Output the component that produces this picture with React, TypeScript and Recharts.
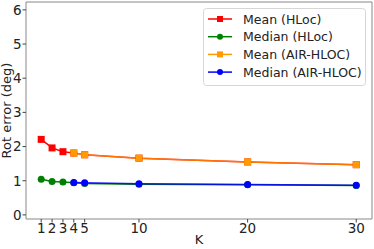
import { LineChart, Line, XAxis, YAxis, ReferenceArea } from 'recharts';

const kValues = [1, 2, 3, 4, 5, 10, 20, 30];
const meanHloc = [2.21, 1.96, 1.85, 1.81, 1.76, 1.66, 1.55, 1.47];
const medianHloc = [1.04, 0.98, 0.96, 0.94, 0.92, 0.9, 0.88, 0.86];
const meanAir = [null, null, null, 1.81, 1.76, 1.66, 1.55, 1.47];
const medianAir = [null, null, null, 0.95, 0.94, 0.91, 0.89, 0.87];
const yTicks = [0, 1, 2, 3, 4, 5, 6];

const data = kValues.map((k, i) => ({
  k,
  meanHloc: meanHloc[i],
  medianHloc: medianHloc[i],
  meanAir: meanAir[i],
  medianAir: medianAir[i],
}));

const FONT = '"DejaVu Sans", sans-serif';

const legendItems = [
  { label: 'Mean (HLoc)', color: '#ff0000', shape: 'square' },
  { label: 'Median (HLoc)', color: '#008000', shape: 'circle' },
  { label: 'Mean (AIR-HLOC)', color: '#ff9a00', shape: 'square' },
  { label: 'Median (AIR-HLOC)', color: '#0000ff', shape: 'circle' },
];

function squareDot(color: string) {
  return (props: any) => {
    const { cx, cy, key } = props;
    if (cx == null || cy == null) return <g key={key} />;
    return <rect key={key} x={cx - 3.5} y={cy - 3.5} width={7} height={7} fill={color} />;
  };
}

function circleDot(color: string) {
  return (props: any) => {
    const { cx, cy, key } = props;
    if (cx == null || cy == null) return <g key={key} />;
    return <circle key={key} cx={cx} cy={cy} r={3.5} fill={color} />;
  };
}

function ChartLegend() {
  return (
    <svg width={163} height={78} style={{ display: 'block' }}>
      <rect x={0.5} y={0.5} width={162} height={77} rx={3} fill="#fff" fillOpacity={0.8} stroke="#d6d6d6" />
      {legendItems.map((item, i) => {
        const y = 11 + i * 17.7;
        return (
          <g key={item.label}>
            <line x1={5} x2={29} y1={y} y2={y} stroke={item.color} strokeWidth={1.5} />
            {item.shape === 'square' ? (
              <rect x={14} y={y - 3} width={6} height={6} fill={item.color} />
            ) : (
              <circle cx={17} cy={y} r={3} fill={item.color} />
            )}
            <text x={40} y={y} dy="0.36em" fontSize={12.5} fontFamily={FONT} fill="#222">
              {item.label}
            </text>
          </g>
        );
      })}
    </svg>
  );
}

export default function App() {
  return (
    <div style={{ position: 'absolute', left: 0, top: 0, width: 374, height: 249, background: '#fff' }}>
      <LineChart width={374} height={249} data={data} margin={{ top: 2, right: 2, bottom: 0, left: 0 }}>
        <ReferenceArea
          x1={-0.4}
          x2={31.45}
          y1={-0.12}
          y2={6.23}
          fill="none"
          stroke="#888"
          strokeWidth={1}
          ifOverflow="visible"
        />
        <XAxis
          dataKey="k"
          type="number"
          domain={[-0.4, 31.45]}
          ticks={kValues}
          allowDataOverflow
          height={30}
          axisLine={false}
          tickSize={3.5}
          tickMargin={1}
          tickLine={{ stroke: '#444' }}
          tick={{ fontSize: 13.5, fontFamily: FONT, fill: '#222' }}
          interval={0}
          label={{ value: 'K', position: 'insideBottom', offset: 5, style: { fontSize: 13, fontFamily: FONT, fill: '#222' } }}
        />
        <YAxis
          type="number"
          domain={[-0.12, 6.23]}
          ticks={yTicks}
          allowDataOverflow
          width={26}
          axisLine={false}
          tickSize={3.5}
          tickMargin={1}
          tickLine={{ stroke: '#444' }}
          tick={{ fontSize: 13.5, fontFamily: FONT, fill: '#222' }}
          label={{
            value: 'Rot error (deg)',
            angle: -90,
            position: 'insideLeft',
            offset: 0,
            dx: 6,
            style: { fontSize: 13, fontFamily: FONT, fill: '#222', textAnchor: 'middle' },
          }}
        />
        <Line
          dataKey="meanHloc"
          stroke="#ff0000"
          strokeWidth={1.5}
          dot={squareDot('#ff0000')}
          activeDot={false}
          isAnimationActive={false}
        />
        <Line
          dataKey="medianHloc"
          stroke="#008000"
          strokeWidth={1.5}
          dot={circleDot('#008000')}
          activeDot={false}
          isAnimationActive={false}
        />
        <Line
          dataKey="meanAir"
          stroke="#ff9a00"
          strokeOpacity={0.75}
          strokeWidth={1.5}
          dot={squareDot('#ff9a00')}
          activeDot={false}
          isAnimationActive={false}
        />
        <Line
          dataKey="medianAir"
          stroke="#0000ff"
          strokeOpacity={0.85}
          strokeWidth={1.5}
          dot={circleDot('#0000ff')}
          activeDot={false}
          isAnimationActive={false}
        />
      </LineChart>
      <div style={{ position: 'absolute', left: 203, top: 8 }}>
        <ChartLegend />
      </div>
    </div>
  );
}
